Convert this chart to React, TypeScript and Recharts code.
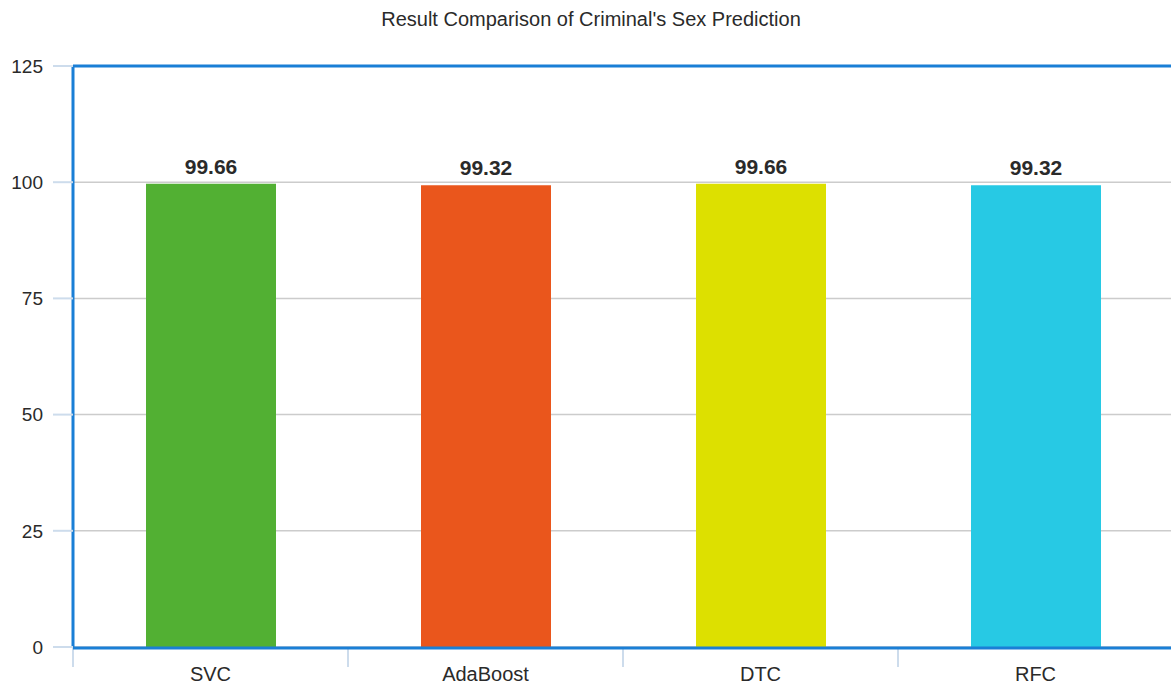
import React from 'react';
import { BarChart, Bar, XAxis, YAxis, CartesianGrid, LabelList, ReferenceLine, Cell } from 'recharts';

const models = ['SVC', 'AdaBoost', 'DTC', 'RFC'];
const accuracy = [99.66, 99.32, 99.66, 99.32];
const barColors = ['#52b033', '#ea561c', '#dde000', '#27c9e4'];
const yTicks = [0, 25, 50, 75, 100, 125];
const boundaryTicks = [0, 1, 2, 3, 4];

const data = models.map((name, i) => ({ name, value: accuracy[i], pos: i + 0.5 }));

const AXIS_BLUE = '#1a7fd6';
const TICK_BLUE = '#cddcec';
const TEXT = '#2a2a2a';
const FONT = 'Liberation Sans, Arial, Helvetica, sans-serif';

// Boundary axis only draws its tick lines, no labels
const EmptyTick = () => <g />;

export default function App() {
  return (
    <div style={{ position: 'absolute', left: 0, top: 0, width: 1171, height: 688, background: '#fff' }}>
      <div
        style={{
          position: 'absolute',
          top: 8,
          left: 0,
          width: 1182,
          textAlign: 'center',
          fontFamily: FONT,
          fontSize: 20,
          color: TEXT,
        }}
      >
        Result Comparison of Criminal's Sex Prediction
      </div>
      <BarChart
        width={1171}
        height={688}
        data={data}
        margin={{ top: 66, right: -2, bottom: 0, left: 0 }}
      >
        <CartesianGrid vertical={false} stroke="#cccccc" strokeWidth={1.5} />
        {/* category boundaries: tick lines between the bars */}
        <XAxis
          xAxisId={0}
          type="number"
          dataKey="pos"
          domain={[0, 4]}
          ticks={boundaryTicks}
          height={1}
          tick={<EmptyTick />}
          tickSize={20}
          tickLine={{ stroke: TICK_BLUE, strokeWidth: 2 }}
          axisLine={false}
        />
        <XAxis
          xAxisId="names"
          dataKey="name"
          height={40}
          tickSize={0}
          tickMargin={19}
          tickLine={false}
          axisLine={{ stroke: AXIS_BLUE, strokeWidth: 3 }}
          tick={{ fill: TEXT, fontSize: 20, fontFamily: FONT }}
        />
        <YAxis
          width={73}
          domain={[0, 125]}
          ticks={yTicks}
          interval={0}
          tickSize={20}
          tickMargin={10}
          tickLine={{ stroke: TICK_BLUE, strokeWidth: 2 }}
          axisLine={{ stroke: AXIS_BLUE, strokeWidth: 3 }}
          tick={{ fill: TEXT, fontSize: 19, fontFamily: FONT }}
        />
        <ReferenceLine y={125} stroke={AXIS_BLUE} strokeWidth={3} />
        <Bar dataKey="value" xAxisId="names" barSize={130} isAnimationActive={false}>
          {data.map((d, i) => (
            <Cell key={d.name} fill={barColors[i]} />
          ))}
          <LabelList
            dataKey="value"
            position="top"
            offset={10}
            style={{ fill: TEXT, fontSize: 21, fontWeight: 'bold', fontFamily: FONT }}
          />
        </Bar>
      </BarChart>
    </div>
  );
}
